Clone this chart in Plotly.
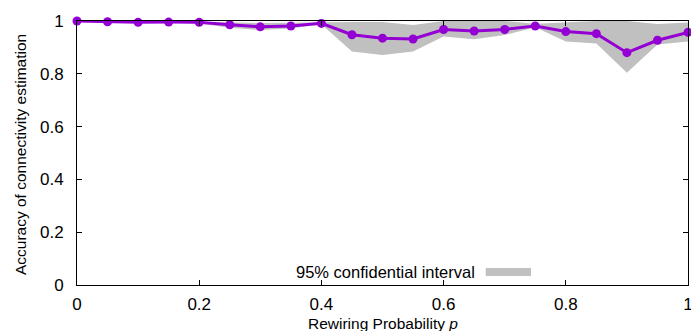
import plotly.graph_objects as go

p = [0.0, 0.05, 0.1, 0.15, 0.2, 0.25, 0.3, 0.35, 0.4, 0.45, 0.5,
     0.55, 0.6, 0.65, 0.7, 0.75, 0.8, 0.85, 0.9, 0.95, 1.0]
accuracy = [1.0, 0.997, 0.995, 0.996, 0.995, 0.986, 0.978, 0.981, 0.991, 0.948, 0.935,
            0.932, 0.968, 0.962, 0.968, 0.981, 0.960, 0.952, 0.880, 0.927, 0.957]
ci_low = [1.0, 0.994, 0.992, 0.993, 0.991, 0.974, 0.966, 0.972, 0.988, 0.884, 0.871,
          0.884, 0.941, 0.931, 0.947, 0.976, 0.922, 0.915, 0.804, 0.911, 0.922]
ci_high = [1.0, 0.999, 0.998, 0.999, 0.998, 0.995, 0.992, 0.994, 0.996, 0.996, 0.996,
           0.985, 1.0, 1.0, 1.0, 0.990, 0.994, 1.0, 1.0, 0.989, 0.994]
tick_vals = [0, 0.2, 0.4, 0.6, 0.8, 1.0]
tick_text = ["0", "0.2", "0.4", "0.6", "0.8", "1"]

purple = "#9400D3"
gray = "#c0c0c0"
font = "Liberation Sans, Arial, sans-serif"

fig = go.Figure()
fig.add_trace(go.Scatter(x=p, y=ci_high, mode="lines", line=dict(width=0, color=gray),
                         showlegend=False, hoverinfo="skip"))
fig.add_trace(go.Scatter(x=p, y=ci_low, mode="lines", line=dict(width=0, color=gray),
                         fill="tonexty", fillcolor=gray, showlegend=False, hoverinfo="skip"))
fig.add_trace(go.Scatter(x=p, y=accuracy, mode="lines+markers",
                         line=dict(color=purple, width=3),
                         marker=dict(color=purple, size=9),
                         cliponaxis=False, showlegend=False))

# legend-like key (text left, sample right)
fig.add_annotation(x=0.655, y=0.05, xref="paper", yref="paper", text="95% confidential interval",
                   showarrow=False, xanchor="right", yanchor="middle",
                   font=dict(family=font, size=16.5, color="#000"))
fig.add_shape(type="rect", xref="paper", yref="paper", x0=0.669, x1=0.743, y0=0.034, y1=0.064,
              fillcolor=gray, line=dict(width=0))

# axis titles
fig.add_annotation(x=0.5, y=-0.146, xref="paper", yref="paper", text="Rewiring Probability <i>p</i>",
                   showarrow=False, xanchor="center", yanchor="middle",
                   font=dict(family=font, size=15.5, color="#000"))
fig.add_annotation(x=-0.0933, y=0.496, xref="paper", yref="paper",
                   text="Accuracy of connectivity estimation", textangle=-90,
                   showarrow=False, xanchor="center", yanchor="middle",
                   font=dict(family=font, size=15.5, color="#000"))

axis_common = dict(showgrid=False, zeroline=False, showline=True, linecolor="#000", linewidth=1,
                   mirror="ticks", ticks="inside", ticklen=5, tickcolor="#000",
                   ticklabeloverflow="allow", automargin=False,
                   tickfont=dict(family=font, size=17, color="#000"))
fig.update_xaxes(range=[0, 1], tickvals=tick_vals, ticktext=tick_text, ticklabelstandoff=4,
                 **axis_common)
fig.update_yaxes(range=[0, 1], tickvals=tick_vals, ticktext=tick_text, ticklabelstandoff=9,
                 **axis_common)
fig.update_layout(width=691, height=331, margin=dict(l=77, r=3, t=21, b=46),
                  plot_bgcolor="white", paper_bgcolor="white")
fig.write_html("out.html")
